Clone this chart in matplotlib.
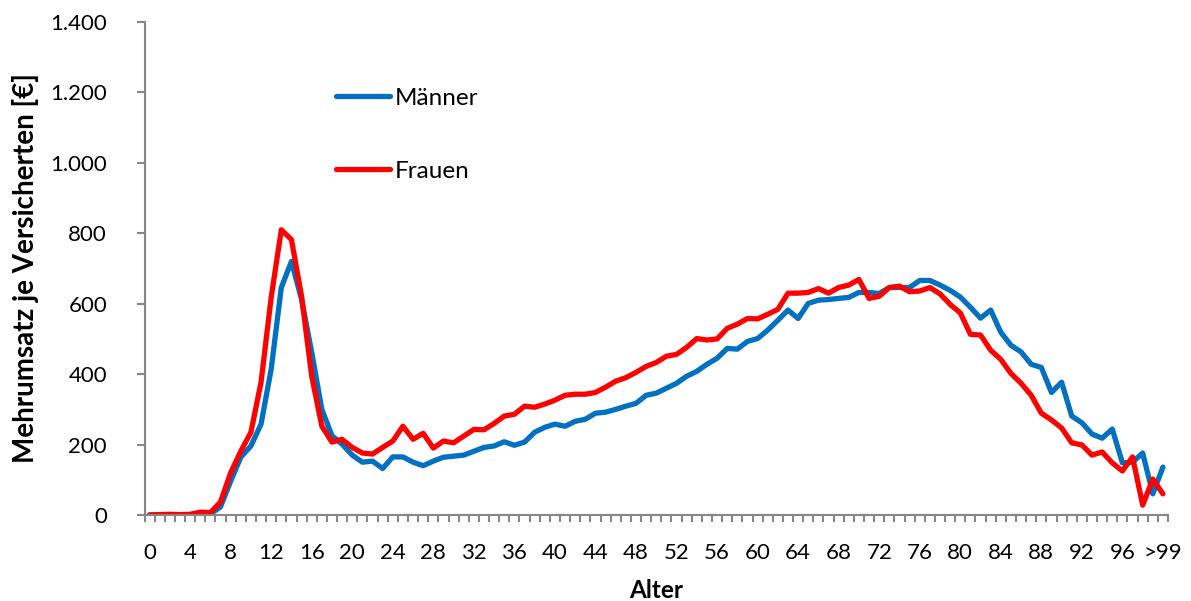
import matplotlib
matplotlib.use("Agg")
import matplotlib.pyplot as plt
import numpy as np

ages = list(range(0, 101))
tick_positions = list(range(0, 101, 4))
tick_labels = [str(a) for a in range(0, 100, 4)] + [">99"]

maenner = [0, 0, 0, 0, 0, 2, 3, 23, 96, 164, 196, 258, 414, 646, 720, 612, 462, 300, 225, 201,
           170, 150, 153, 132, 165, 165, 150, 140, 153, 164, 167, 170, 181, 192, 196, 208, 198, 207, 235, 249,
           258, 252, 266, 272, 289, 292, 300, 309, 317, 340, 346, 360, 374, 394, 408, 428, 445, 473, 471, 493,
           501, 525, 553, 582, 558, 601, 610, 612, 615, 618, 632, 632, 629, 646, 646, 646, 666, 666, 653, 638,
           619, 590, 559, 582, 519, 482, 463, 428, 419, 348, 377, 281, 262, 230, 218, 244, 148, 150, 176, 60,
           136]
frauen = [0, 1, 2, 1, 2, 8, 7, 37, 120, 181, 235, 377, 618, 810, 782, 621, 394, 252, 207, 215,
          192, 176, 173, 192, 210, 252, 215, 232, 190, 210, 205, 224, 243, 242, 260, 281, 286, 309, 306, 315,
          326, 340, 343, 343, 348, 363, 380, 390, 405, 422, 433, 451, 456, 476, 501, 497, 500, 530, 542, 558,
          557, 570, 584, 630, 630, 632, 643, 630, 646, 653, 669, 615, 621, 646, 650, 634, 636, 646, 628, 598,
          574, 513, 511, 468, 442, 402, 374, 340, 289, 270, 247, 205, 199, 170, 179, 148, 125, 165, 28, 102,
          60]

FONT = ["Lato", "DejaVu Sans"]
plt.rcParams["font.family"] = FONT

fig = plt.figure(figsize=(11.91, 6.01), dpi=100)
ax = fig.add_axes([144.5 / 1191, 1 - 515 / 601, (1168 - 144.5) / 1191, (515 - 22) / 601])

ax.plot(ages, maenner, color="#0070C0", lw=3.8, label="Männer", solid_joinstyle="round", solid_capstyle="round")
ax.plot(ages, frauen, color="#FF0000", lw=3.8, label="Frauen", solid_joinstyle="round", solid_capstyle="round")

ax.set_xlim(-0.5, 100.5)
ax.set_ylim(0, 1400)

for s in ["top", "right"]:
    ax.spines[s].set_visible(False)
for s in ["left", "bottom"]:
    ax.spines[s].set_color("#868686")
    ax.spines[s].set_linewidth(1.5)

ax.set_yticks(np.arange(0, 1401, 200))
ax.set_yticklabels(["0", "200", "400", "600", "800", "1.000", "1.200", "1.400"])
ax.tick_params(axis="y", direction="out", length=6, width=1.5, color="#868686",
               labelsize=16, pad=21, labelcolor="black")

ax.set_xticks(tick_positions)
ax.set_xticklabels(tick_labels)
ax.set_xticks(np.arange(-0.5, 101, 1), minor=True)
ax.tick_params(axis="x", which="major", length=0, labelsize=16, pad=20, labelcolor="black")
ax.tick_params(axis="x", which="minor", direction="out", length=5, width=1.5, color="#868686")

ax.set_xlabel("Alter", fontsize=17.5, fontweight="bold", labelpad=12)
ax.set_ylabel("Mehrumsatz je Versicherten [€]", fontsize=20, fontweight="bold", labelpad=8)

fs_leg = 17.5
px = fs_leg * 100 / 72
leg = ax.legend(loc="upper left", bbox_to_anchor=(336 / 1191, 1 - (100 - px / 2) / 601),
                bbox_transform=fig.transFigure, frameon=False, fontsize=fs_leg,
                handlelength=54 / px, handletextpad=5 / px, labelspacing=(76 - px) / px,
                borderpad=0, borderaxespad=0)

fig.savefig("out.png", dpi=100)
